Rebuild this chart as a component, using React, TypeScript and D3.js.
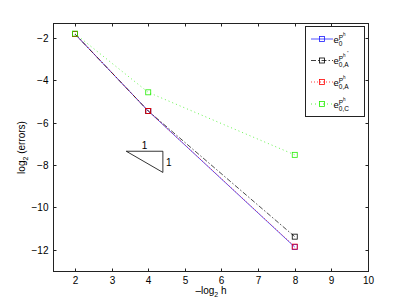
import React from "react";
import * as d3 from "d3";

const W = 406;
const H = 305;
const margin = { top: 23, right: 38, bottom: 34, left: 53 };

// data (x = -log2 h, y = log2 error)
const hLevels = [2, 4, 8];
const errP0 = [-1.82, -5.45, -11.87];
const errP0AStar = [-1.82, -5.45, -11.38];
const errP0A = [-1.82, -5.45, -11.85];
const errP0C = [-1.8, -4.57, -7.52];

const xTicks = [2, 3, 4, 5, 6, 7, 8, 9, 10];
const yTicks = [-2, -4, -6, -8, -10, -12];

// slope triangle corners
const triX = [3.4, 4.4, 4.4];
const triY = [-7.35, -7.35, -8.35];

const series = [
  { name: "P0", values: errP0, color: "#1a1aff", dash: "none", sub: "0", star: false },
  { name: "P0AStar", values: errP0AStar, color: "#000000", dash: "5,2,1.5,2", sub: "0,A", star: true },
  { name: "P0A", values: errP0A, color: "#ff0000", dash: "1,2", sub: "0,A", star: false },
  { name: "P0C", values: errP0C, color: "#22ee00", dash: "1,3", sub: "0,C", star: false },
];

const font = "'Liberation Sans', Arial, Helvetica, sans-serif";

export default function App() {
  const x = d3.scaleLinear().domain([1.4, 10]).range([margin.left, W - margin.right]);
  const y = d3.scaleLinear().domain([-13, -1.3]).range([H - margin.bottom, margin.top]);

  const line = d3
    .line<number>()
    .x((d, i) => x(hLevels[i]))
    .y((d) => y(d));

  const x0 = margin.left + 0.5;
  const x1 = W - margin.right + 0.5;
  const y0 = margin.top + 0.5;
  const y1 = H - margin.bottom + 0.5;
  const tick = 3;
  const ms = 5;

  const tri = triX.map((v, i) => [x(v), y(triY[i])] as [number, number]);

  // legend
  const lg = { left: 305.5, top: 26.5, right: 364.5, bottom: 116.5 };
  const rows = [39, 60.5, 82, 104];

  return (
    <svg
      width={W}
      height={H}
      style={{ position: "absolute", left: 0, top: 0, background: "#fff" }}
      fontFamily={font}
    >
      <rect x={0} y={0} width={W} height={H} fill="#fff" />

      {/* series */}
      {series.map((s) => (
        <g key={s.name}>
          <path d={line(s.values) || ""} fill="none" stroke={s.color} strokeWidth={0.7} strokeDasharray={s.dash} />
          {s.values.map((v, i) => (
            <rect
              key={i}
              x={x(hLevels[i]) - ms / 2}
              y={y(v) - ms / 2}
              width={ms}
              height={ms}
              fill="none"
              stroke={s.color}
              strokeWidth={0.8}
            />
          ))}
        </g>
      ))}

      {/* slope triangle */}
      <polygon points={tri.map((p) => p.join(",")).join(" ")} fill="none" stroke="#000" strokeWidth={0.8} />
      <text x={(tri[0][0] + tri[1][0]) / 2} y={tri[0][1] - 2} fontSize={10} textAnchor="middle">
        1
      </text>
      <text x={tri[1][0] + 3} y={(tri[1][1] + tri[2][1]) / 2 + 4} fontSize={10}>
        1
      </text>

      {/* axes box */}
      <rect x={x0} y={y0} width={x1 - x0} height={y1 - y0} fill="none" stroke="#222" strokeWidth={1} />
      {xTicks.map((t) => {
        const xx = Math.round(x(t)) + 0.5;
        return (
          <g key={"x" + t}>
            <line x1={xx} x2={xx} y1={y1} y2={y1 - tick} stroke="#222" />
            <line x1={xx} x2={xx} y1={y0} y2={y0 + tick} stroke="#222" />
            <text x={xx} y={y1 + 12} fontSize={10} textAnchor="middle">
              {t}
            </text>
          </g>
        );
      })}
      {yTicks.map((t) => {
        const yy = Math.round(y(t)) + 0.5;
        return (
          <g key={"y" + t}>
            <line x1={x0} x2={x0 + tick} y1={yy} y2={yy} stroke="#222" />
            <line x1={x1} x2={x1 - tick} y1={yy} y2={yy} stroke="#222" />
            <text x={x0 - 5} y={yy + 3.5} fontSize={10} textAnchor="end">
              {"\u2212" + Math.abs(t)}
            </text>
          </g>
        );
      })}

      {/* axis labels */}
      <text x={(x0 + x1) / 2} y={294} fontSize={10} textAnchor="middle">
        {"\u2013log"}
        <tspan fontSize={7} dy={3}>2</tspan>
        <tspan dy={-3}> h</tspan>
      </text>
      <text transform={`translate(25,${(y0 + y1) / 2}) rotate(-90)`} fontSize={10} textAnchor="middle">
        log
        <tspan fontSize={7} dy={3}>2</tspan>
        <tspan dy={-3}> (errors)</tspan>
      </text>

      {/* legend */}
      <rect
        x={lg.left}
        y={lg.top}
        width={lg.right - lg.left}
        height={lg.bottom - lg.top}
        fill="#fff"
        stroke="#222"
        strokeWidth={1}
      />
      {series.map((s, i) => {
        const r = rows[i];
        return (
          <g key={"lg" + s.name}>
            <line x1={311} x2={333} y1={r} y2={r} stroke={s.color} strokeWidth={0.75} strokeDasharray={s.dash} />
            <rect x={322 - ms / 2} y={r - ms / 2} width={ms} height={ms} fill="none" stroke={s.color} strokeWidth={0.8} />
            <text x={333.5} y={r + 3.5} fontSize={9.5}>
              e
            </text>
            <text x={338.8} y={r + 0.8} fontSize={6.5}>
              P
            </text>
            <text x={343} y={r - 3.5} fontSize={4.5}>
              h
            </text>
            {s.star && (
              <text x={347} y={r - 6.5} fontSize={4}>
                *
              </text>
            )}
            <text x={338.8} y={r + 6.8} fontSize={6.5}>
              {s.sub}
            </text>
          </g>
        );
      })}
    </svg>
  );
}
